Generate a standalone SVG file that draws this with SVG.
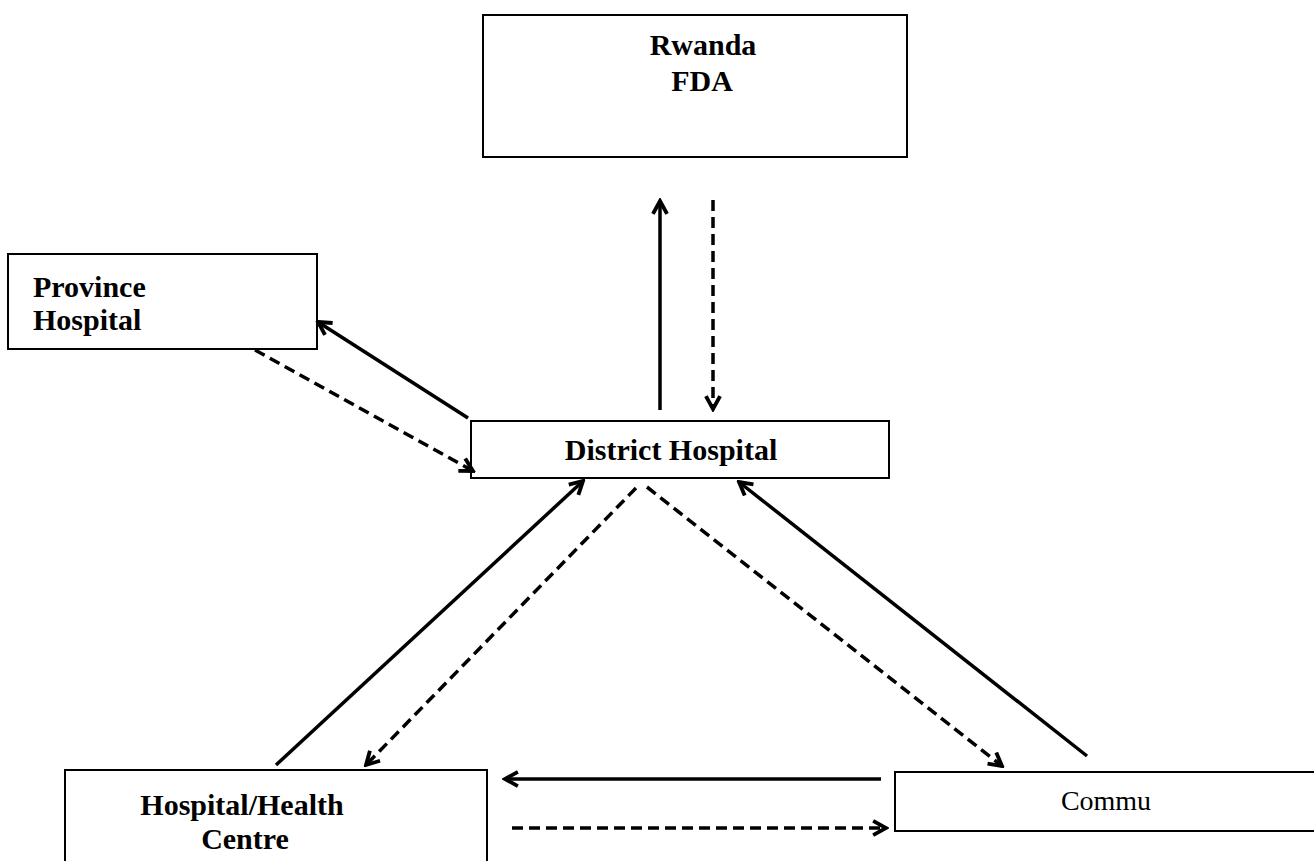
<svg xmlns="http://www.w3.org/2000/svg" width="1314" height="861" viewBox="0 0 1314 861">
<style>
.box{fill:#fff;stroke:#000;stroke-width:2}
.lb{font-family:"Liberation Serif","Times New Roman",serif;font-weight:bold;font-size:30px;fill:#000}
.lr{font-family:"Liberation Serif","Times New Roman",serif;font-size:28px;fill:#000}
.solid{stroke:#000;stroke-width:3.5;fill:none;marker-end:url(#ah)}
.dash{stroke:#000;stroke-width:3.5;fill:none;stroke-dasharray:11 6;marker-end:url(#ah)}
</style>
<defs>
<marker id="ah" viewBox="0 0 14 14" refX="12" refY="7" markerWidth="18" markerHeight="18" markerUnits="userSpaceOnUse" orient="auto">
<path d="M2,1.5 L12,7 L2,12.5" fill="none" stroke="#000" stroke-width="3" stroke-linejoin="miter"/>
</marker>
</defs>
<rect width="1314" height="861" fill="#fff"/>
<g id="node-fda">
<rect class="box" x="483" y="15" width="424" height="142"/>
<text class="lb" x="703" y="55" text-anchor="middle">Rwanda</text>
<text class="lb" x="702" y="91" text-anchor="middle">FDA</text>
</g>
<g id="node-province">
<rect class="box" x="8" y="254" width="309" height="95"/>
<text class="lb" x="33" y="297">Province</text>
<text class="lb" x="33" y="330">Hospital</text>
</g>
<g id="node-district">
<rect class="box" x="471" y="421" width="418" height="57"/>
<text class="lb" x="671" y="460" text-anchor="middle">District Hospital</text>
</g>
<g id="node-hhc">
<rect class="box" x="65" y="770" width="422" height="100"/>
<text class="lb" x="242" y="815" text-anchor="middle">Hospital/Health</text>
<text class="lb" x="245" y="849" text-anchor="middle">Centre</text>
</g>
<g id="node-commu">
<rect class="box" x="895" y="772" width="425" height="59"/>
<text class="lr" x="1106" y="810" text-anchor="middle">Commu</text>
</g>
<g id="connectors">
<line class="solid" x1="660" y1="410" x2="660" y2="201"/>
<line class="dash" x1="713" y1="200" x2="713" y2="409"/>
<line class="solid" x1="468" y1="418" x2="318" y2="322"/>
<line class="dash" x1="255" y1="350" x2="473" y2="471"/>
<line class="solid" x1="276" y1="765" x2="583" y2="481"/>
<line class="dash" x1="636" y1="488" x2="366" y2="765"/>
<line class="dash" x1="647" y1="487" x2="1002" y2="766"/>
<line class="solid" x1="1087" y1="756" x2="739" y2="482"/>
<line class="solid" x1="881" y1="779" x2="505" y2="779"/>
<line class="dash" x1="512" y1="828" x2="886" y2="828"/>
</g>
</svg>
